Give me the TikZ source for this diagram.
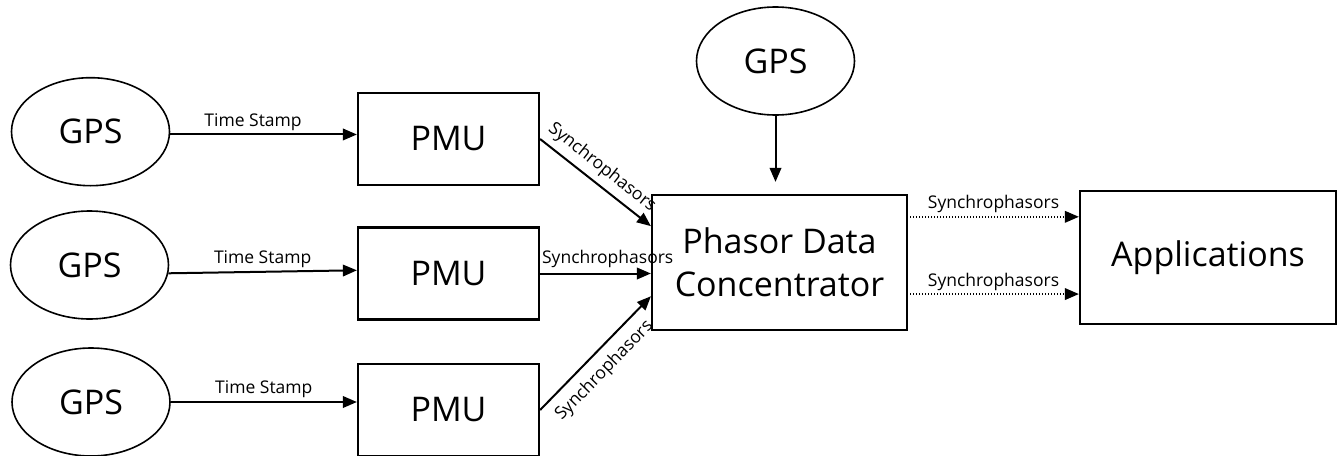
\documentclass[tikz,border=0pt]{standalone}
\usepackage{fontspec}
\setmainfont{Open Sans}
\usetikzlibrary{shapes.geometric,arrows.meta,calc}

\begin{document}
\begin{tikzpicture}[x=1pt,y=-1pt,
  big/.style={font=\fontsize{34}{43}\selectfont},
  small/.style={font=\fontsize{17.5}{21}\selectfont, inner sep=2pt},
  gpsnode/.style={ellipse, draw, line width=1.6pt, minimum width=158pt,
    minimum height=108pt, inner sep=0pt, big},
  block/.style={draw, line width=2.2pt, inner sep=0pt, big},
  pmubox/.style={block, minimum width=181pt, minimum height=92pt},
  tip/.style={-{Triangle[length=14pt,width=11.5pt]}},
  arr/.style={line width=2pt, tip},
  dotarr/.style={line width=2pt, dash pattern=on 1.2pt off 1.8pt, tip}]

% page frame
\fill[white] (0,0) rectangle (1337,455);
\useasboundingbox (0,0) rectangle (1337,455);

% clock sources
\node[gpsnode] (gps1) at (90.5,131.7) {GPS};
\node[gpsnode] (gps2) at (89.5,265) {GPS};
\node[gpsnode] (gps3) at (91,402) {GPS};
\node[gpsnode] (gps0) at (775.5,61) {GPS};

% measurement units
\node[pmubox] (pmu1) at (448.5,139) {PMU};
\node[pmubox] (pmu2) at (448.5,273.5) {PMU};
\node[pmubox] (pmu3) at (448.5,410) {PMU};

% concentrator and consumers
\node[block, minimum width=255pt, minimum height=135pt, align=center] (pdc)
  at (779.5,262.5) {Phasor Data\\Concentrator};
\node[block, minimum width=256pt, minimum height=133pt] (app)
  at (1208,257.5) {Applications};

% time stamps
\draw[arr] (gps1.-2.4) -- (gps1.-2.4 -| pmu1.west)
  node[small, pos=0.444, above=1pt] {Time Stamp};
\draw[arr] (gps2.-6) -- (pmu2.178)
  node[small, midway, above=1pt] {Time Stamp};
\draw[arr] (gps3.east) -- (gps3.east -| pmu3.west)
  node[small, midway, above=1pt] {Time Stamp};

% phasor streams into the concentrator
\coordinate (in1) at ($(pdc.north west)!0.235!(pdc.south west)$);
\coordinate (in3) at ($(pdc.north west)!0.746!(pdc.south west)$);
\draw[arr] (pmu1.east) -- (in1)
  node[small, pos=0.47, sloped, above=4pt] {Synchrophasors};
\draw[arr] (pmu2.east) -- (pmu2.east -| pdc.west)
  node[small, pos=0.61, above=3pt] {Synchrophasors};
\draw[arr] (pmu3.east) -- (in3)
  node[small, pos=0.46, sloped, below=7pt] {Synchrophasors};

% reference clock of the concentrator
\draw[arr, shorten >=12pt] (gps0.south) -- (gps0.south |- pdc.north);

% outputs
\coordinate (o1) at ($(pdc.north east)!0.167!(pdc.south east)$);
\coordinate (o2) at ($(pdc.north east)!0.73!(pdc.south east)$);
\draw[dotarr, shorten <=2pt] (o1) -- (o1 -| app.west)
  node[small, midway, above=1pt] {Synchrophasors};
\draw[dotarr, shorten <=2pt] (o2) -- (o2 -| app.west)
  node[small, midway, above=0pt] {Synchrophasors};
\end{tikzpicture}
\end{document}
